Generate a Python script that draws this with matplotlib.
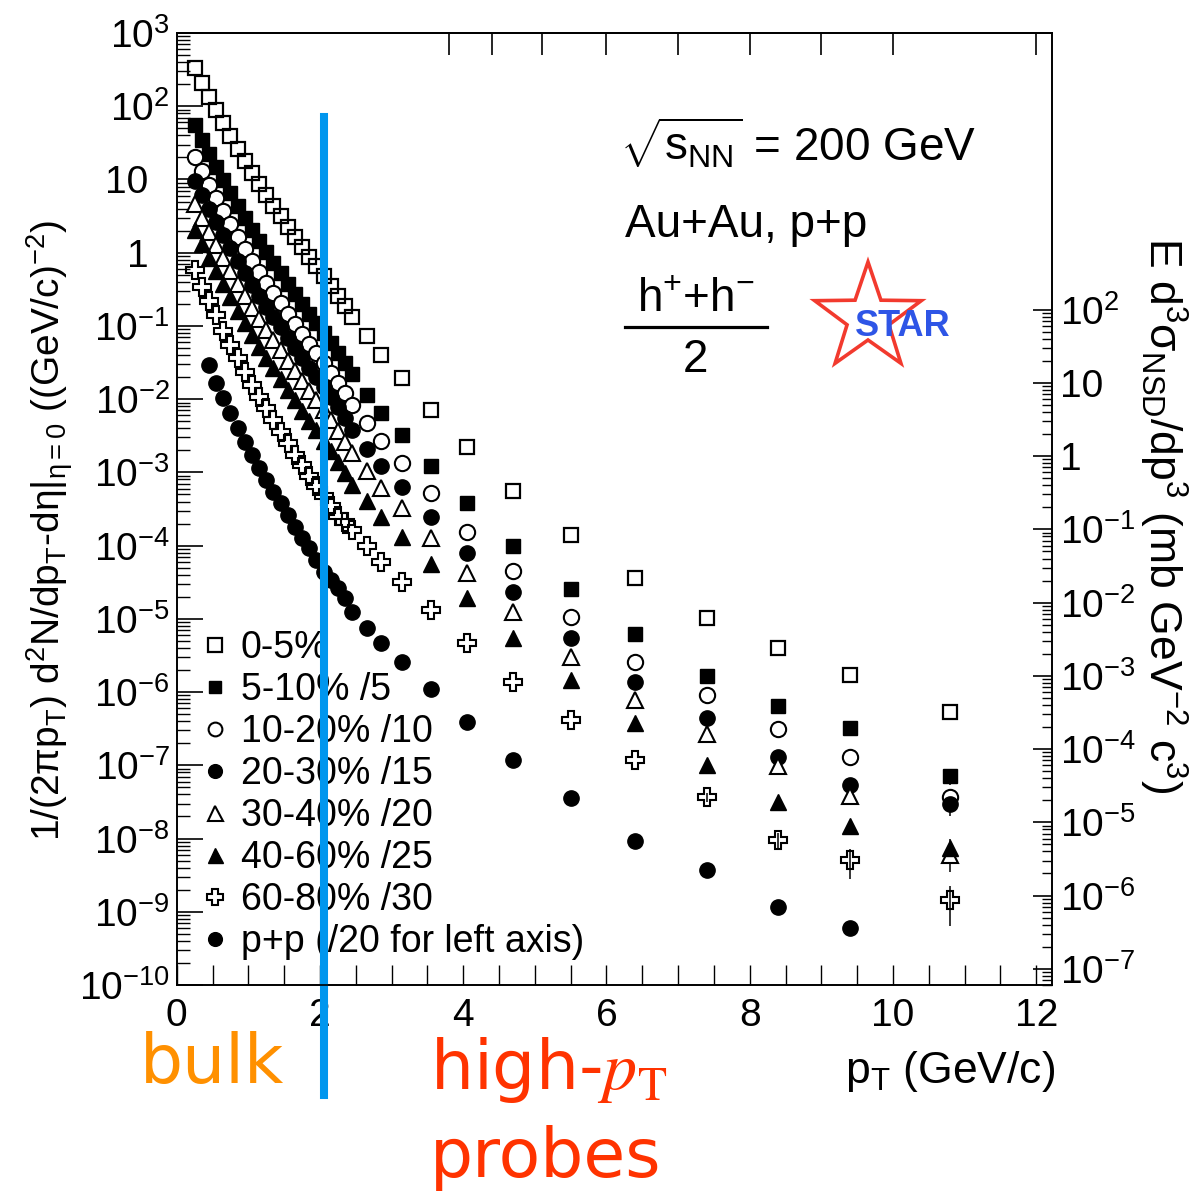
import numpy as np
import matplotlib
matplotlib.use('Agg')
import matplotlib.pyplot as plt
from matplotlib.lines import Line2D
from matplotlib.patches import Polygon
from matplotlib.ticker import FixedLocator, FuncFormatter, LogLocator, MultipleLocator, NullFormatter

plt.rcParams['font.family'] = ['Liberation Sans', 'DejaVu Sans']
plt.rcParams['mathtext.fontset'] = 'custom'
plt.rcParams['mathtext.rm'] = 'Liberation Sans'
plt.rcParams['mathtext.it'] = 'Liberation Sans:italic'
plt.rcParams['mathtext.default'] = 'regular'

# pT bin centres (GeV/c)
pt_auau = [0.25, 0.35, 0.45, 0.55, 0.65, 0.75, 0.85, 0.95, 1.05, 1.15, 1.25, 1.35,
           1.45, 1.55, 1.65, 1.75, 1.85, 1.95, 2.05, 2.15, 2.25, 2.35, 2.45,
           2.65, 2.85, 3.15, 3.55, 4.05, 4.7, 5.5, 6.4, 7.4, 8.4, 9.4, 10.8]
pt_pp = [0.45, 0.55, 0.65, 0.75, 0.85, 0.95, 1.05, 1.15, 1.25, 1.35, 1.45,
         1.55, 1.65, 1.75, 1.85, 1.95, 2.05, 2.15, 2.25, 2.35, 2.45,
         2.65, 2.85, 3.15, 3.55, 4.05, 4.7, 5.5, 6.4, 7.4, 8.4, 9.4]

# invariant yields, already scaled as in the legend
y_0_5 = [333, 207, 134, 88.7, 58.9, 39.2, 26.0, 17.8, 12.2, 8.65, 6.12, 4.33,
         3.16, 2.24, 1.63, 1.19, 0.871, 0.656, 0.479, 0.350, 0.255, 0.186, 0.132,
         0.0726, 0.0399, 0.0194, 7.08e-3, 2.21e-3, 5.53e-4, 1.39e-4, 3.59e-5,
         1.02e-5, 3.96e-6, 1.70e-6, 5.30e-7]
y_5_10 = [55.4, 34.5, 22.3, 14.8, 9.81, 6.53, 4.33, 2.96, 2.03, 1.44, 1.02, 0.721,
          0.526, 0.373, 0.271, 0.198, 0.145, 0.109, 0.0798, 0.0583, 0.0425, 0.0310, 0.0220,
          0.01135, 6.44e-3, 3.22e-3, 1.22e-3, 3.79e-4, 9.82e-5, 2.54e-5, 6.17e-6,
          1.64e-6, 6.40e-7, 3.20e-7, 7.08e-8]
y_10_20 = [20.2, 13.0, 8.38, 5.57, 3.70, 2.46, 1.63, 1.12, 0.768, 0.543, 0.384, 0.281,
           0.205, 0.145, 0.106, 0.0773, 0.0564, 0.0425, 0.0310, 0.0227, 0.0166, 0.0121, 8.28e-3,
           4.70e-3, 2.67e-3, 1.34e-3, 5.20e-4, 1.52e-4, 4.47e-5, 1.05e-5, 2.55e-6,
           9.04e-7, 3.10e-7, 1.29e-7, 3.66e-8]
y_20_30 = [9.49, 6.11, 3.94, 2.62, 1.74, 1.16, 0.766, 0.526, 0.361, 0.255, 0.180, 0.132,
           0.0964, 0.0682, 0.0498, 0.0363, 0.0265, 0.0200, 0.0146, 0.0107, 7.80e-3, 5.50e-3, 3.78e-3,
           2.07e-3, 1.22e-3, 6.28e-4, 2.44e-4, 7.87e-5, 2.31e-5, 5.43e-6, 1.36e-6,
           4.39e-7, 1.29e-7, 5.33e-8, 2.93e-8]
y_30_40 = [4.60, 2.96, 1.91, 1.27, 0.844, 0.563, 0.372, 0.255, 0.175, 0.124, 0.0873, 0.0640,
           0.0468, 0.0331, 0.0242, 0.0176, 0.0129, 9.70e-3, 7.08e-3, 5.19e-3, 3.66e-3, 2.59e-3, 1.83e-3,
           1.04e-3, 6.08e-4, 3.24e-4, 1.26e-4, 4.20e-5, 1.23e-5, 2.99e-6, 7.73e-7,
           2.65e-7, 9.70e-8, 3.78e-8, 5.90e-9]
y_40_60 = [2.04, 1.31, 0.844, 0.561, 0.372, 0.247, 0.159, 0.109, 0.0748, 0.0513, 0.0363, 0.0265,
           0.0188, 0.0133, 9.69e-3, 6.86e-3, 5.00e-3, 3.77e-3, 2.67e-3, 1.95e-3, 1.38e-3, 9.75e-4, 6.68e-4,
           4.04e-4, 2.44e-4, 1.30e-4, 5.57e-5, 1.91e-5, 5.43e-6, 1.45e-6, 3.75e-7,
           1.00e-7, 3.13e-8, 1.47e-8, 7.35e-9]
y_60_80 = [0.578, 0.339, 0.218, 0.141, 0.0849, 0.0547, 0.0363, 0.0234, 0.0155, 0.0106, 7.53e-3, 5.16e-3,
           3.54e-3, 2.51e-3, 1.72e-3, 1.25e-3, 8.87e-4, 6.48e-4, 4.73e-4, 3.45e-4, 2.52e-4, 2.09e-4, 1.62e-4,
           9.82e-5, 5.93e-5, 3.16e-5, 1.31e-5, 4.64e-6, 1.36e-6, 4.12e-7, 1.17e-7,
           3.66e-8, 9.44e-9, 5.04e-9, 1.43e-9]
y_pp = [0.0291, 0.0167, 0.0103, 6.44e-3, 4.02e-3, 2.61e-3, 1.72e-3, 1.14e-3, 7.82e-4, 5.42e-4,
        3.79e-4, 2.60e-4, 1.80e-4, 1.26e-4, 9.20e-5, 6.32e-5, 4.38e-5, 3.37e-5, 2.62e-5, 1.91e-5,
        1.24e-5, 7.44e-6, 4.64e-6, 2.58e-6, 1.09e-6, 3.91e-7, 1.17e-7, 3.54e-8, 9.16e-9,
        3.68e-9, 1.15e-9, 5.93e-10]

# relative errors of the last few (high pT) points of each spectrum
rel_err_0_5 = []
rel_err_5_10 = [0.08, 0.1, 0.15, 0.25]
rel_err_10_20 = [0.08, 0.1, 0.15, 0.25]
rel_err_20_30 = [0.08, 0.12, 0.18, 0.3]
rel_err_30_40 = [0.1, 0.15, 0.25, 0.4]
rel_err_40_60 = [0.1, 0.15, 0.2, 0.35]
rel_err_60_80 = [0.15, 0.25, 0.45, 0.55]
rel_err_pp = [0.1, 0.15, 0.2]

labels = ['0-5%', '5-10% /5', '10-20% /10', '20-30% /15', '30-40% /20',
          '40-60% /25', '60-80% /30', 'p+p (/20 for left axis)']

# high-pT bin edges marked on the top axis
top_edges = [3.8, 4.4, 5.1, 6.0, 7.0, 8.0, 9.0, 10.0, 12.0]

# p+p cross section scale for the right axis (mb, times the /20)
pp_scale = 600.0

W, H = 1200, 1197
fig = plt.figure(figsize=(W / 100, H / 100), dpi=100)
ax = fig.add_axes([176.7 / W, 1 - 985 / H, 875.3 / W, 952 / H])

series = [
    (pt_auau, y_0_5, rel_err_0_5, dict(marker='s', mfc='none', ms=10.5, mew=1.6)),
    (pt_auau, y_5_10, rel_err_5_10, dict(marker='s', mfc='k', ms=10)),
    (pt_auau, y_10_20, rel_err_10_20, dict(marker='o', mfc='white', ms=11, mew=1.5)),
    (pt_auau, y_20_30, rel_err_20_30, dict(marker='o', mfc='k', ms=11)),
    (pt_auau, y_30_40, rel_err_30_40, dict(marker='^', mfc='white', ms=12, mew=1.5)),
    (pt_auau, y_40_60, rel_err_40_60, dict(marker='^', mfc='k', ms=12)),
    (pt_auau, y_60_80, rel_err_60_80, dict(marker='P', mfc='none', ms=12.5, mew=1.5)),
    (pt_pp, y_pp, rel_err_pp, dict(marker='o', mfc='k', ms=11)),
]

handles = []
for (x, y, rel, style), lab in zip(series, labels):
    x = np.array(x)
    y = np.array(y)
    n = len(rel)
    if n:
        ax.errorbar(x[-n:], y[-n:], yerr=y[-n:] * np.array(rel), fmt='none',
                    ecolor='k', elinewidth=1.1, capsize=0, zorder=2)
    h, = ax.plot(x, y, ls='none', mec='k', color='k', label=lab, zorder=3, **style)
    handles.append(h)

ax.set_xlim(0, 12.22)
ax.set_yscale('log')
ax.set_ylim(1e-10, 1e3)


def left_label(v, pos):
    e = int(round(np.log10(v)))
    if e == 0:
        return '1  '
    if e == 1:
        return '10  '
    return r'10$^{%d}$' % e


def right_label(v, pos):
    e = int(round(np.log10(v)))
    if e == 0:
        return '1'
    if e == 1:
        return '10'
    return r'10$^{%d}$' % e


ax.yaxis.set_major_locator(FixedLocator([10.0 ** e for e in range(-10, 4)]))
ax.yaxis.set_minor_locator(LogLocator(base=10, subs=np.arange(2, 10), numticks=30))
ax.yaxis.set_major_formatter(FuncFormatter(left_label))
ax.yaxis.set_minor_formatter(NullFormatter())
ax.xaxis.set_major_locator(MultipleLocator(2))
ax.xaxis.set_minor_locator(MultipleLocator(0.5))
ax.tick_params(axis='y', which='major', direction='in', length=18.7, width=1.2,
               labelsize=28, pad=5, right=False)
ax.tick_params(axis='y', which='minor', direction='in', length=9.4, width=1.0, right=False)
ax.tick_params(axis='x', which='both', direction='in', length=14.4, width=1.0,
               labelsize=28, pad=9, top=False)
for s in ax.spines.values():
    s.set_linewidth(1.2)

# bin edges along the top frame
top = ax.secondary_xaxis('top')
top.set_xticks(top_edges)
top.xaxis.set_minor_locator(FixedLocator([]))
top.tick_params(direction='in', length=16, width=1.2, labeltop=False)
top.spines['top'].set_linewidth(1.2)

# right axis: p+p cross section
ax2 = ax.twinx()
ax2.set_yscale('log')
ax2.set_ylim(1e-10 * pp_scale, 1e3 * pp_scale)
ax2.yaxis.set_major_locator(FixedLocator([10.0 ** e for e in range(-7, 3)]))
ax2.yaxis.set_minor_locator(FixedLocator([k * 10.0 ** e for e in range(-8, 2) for k in range(2, 10)
                                          if 6e-8 <= k * 10.0 ** e <= 100]))
ax2.yaxis.set_major_formatter(FuncFormatter(right_label))
ax2.yaxis.set_minor_formatter(NullFormatter())
ax2.tick_params(axis='y', which='major', direction='in', length=13.7, width=1.2,
                labelsize=28, pad=6)
ax2.tick_params(axis='y', which='minor', direction='in', length=7.2, width=1.0)
for s in ax2.spines.values():
    s.set_linewidth(1.2)

ax.legend(handles=handles, loc='lower left', bbox_to_anchor=(0.023, 0.026),
          frameon=False, fontsize=27, borderpad=0, borderaxespad=0,
          handlelength=0.95, handletextpad=0.22, labelspacing=0.16, markerscale=0.9)

# pT = 2 GeV/c boundary between bulk and hard probes
ax.axvline(2.05, ymin=(985 - 1095) / 952, ymax=(985 - 117) / 952, color='#0096EE',
           lw=5.8, clip_on=False, zorder=10)


def fx(px):
    return px / W


def fy(py):
    return 1 - py / H


fig.text(fx(50), fy(530), '1/(2πp$_{T}$) d$^{2}$N/dp$_{T}$-dη|$_{η=0}$ ((GeV/c)$^{-2}$)',
         rotation=90, ha='center', va='center', fontsize=28)
fig.text(fx(1163), fy(515), 'E d$^{3}$σ$_{NSD}$/dp$^{3}$ (mb GeV$^{-2}$ c$^{3}$)',
         rotation=270, ha='center', va='center', fontsize=32)
fig.text(fx(1055), fy(1072), 'p$_{T}$ (GeV/c)', ha='right', va='center', fontsize=32)

fig.text(fx(620), fy(160), r'$\sqrt{s_{NN}}$ = 200 GeV', ha='left', va='baseline', fontsize=33)
fig.text(fx(625), fy(237), 'Au+Au, p+p', ha='left', va='baseline', fontsize=33)
fig.text(fx(696), fy(312), 'h$^{+}$+h$^{-}$', ha='center', va='baseline', fontsize=33)
fig.add_artist(Line2D([fx(625), fx(767)], [fy(327), fy(327)], color='k', lw=2.3,
                      transform=fig.transFigure))
fig.text(fx(695), fy(372), '2', ha='center', va='baseline', fontsize=33)

# STAR logo
ang = np.pi / 2 + np.arange(10) * np.pi / 5
rad = np.where(np.arange(10) % 2 == 0, 56.0, 22.0)
star_xy = np.column_stack([fx(868 + rad * np.cos(ang)), fy(318 - rad * np.sin(ang))])
fig.add_artist(Polygon(star_xy, closed=True, fill=False, edgecolor='#F23A2E', lw=2.6,
                       transform=fig.transFigure))
fig.text(fx(855), fy(336), 'STAR', ha='left', va='baseline', fontsize=26,
         fontweight='bold', color='#2E55E6')

fig.text(fx(140), fy(1083), 'bulk', ha='left', va='baseline', fontsize=49,
         color='#FF9000', family='DejaVu Sans')
fig.text(fx(430), fy(1089), r'high-$\mathit{p}_{\mathrm{T}}$', ha='left', va='baseline',
         fontsize=49, color='#FF3300', family='DejaVu Sans', math_fontfamily='stix')
fig.text(fx(430), fy(1177), 'probes', ha='left', va='baseline', fontsize=49,
         color='#FF3300', family='DejaVu Sans')

fig.savefig('out.png', dpi=100)
